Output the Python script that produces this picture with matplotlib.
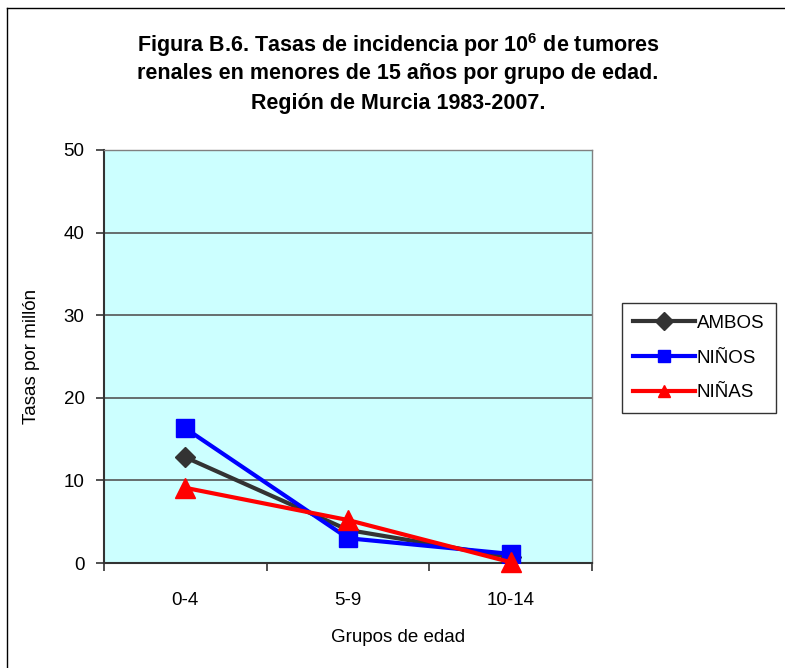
import matplotlib
matplotlib.use("Agg")
import matplotlib.pyplot as plt
from matplotlib.lines import Line2D

plt.rcParams['font.family'] = ['Liberation Sans', 'DejaVu Sans']
plt.rcParams['mathtext.fontset'] = 'custom'
plt.rcParams['mathtext.rm'] = 'Liberation Sans:bold'
plt.rcParams['mathtext.it'] = 'Liberation Sans:bold'
plt.rcParams['mathtext.bf'] = 'Liberation Sans:bold'

categories = ["0-4", "5-9", "10-14"]
ambos = [12.8, 4.0, 0.7]
ninos = [16.3, 3.0, 1.1]
ninas = [9.1, 5.2, 0.1]
yticks = [0, 10, 20, 30, 40, 50]

W, H = 785, 668
fig = plt.figure(figsize=(W/100, H/100), dpi=100)
ax = fig.add_axes([104/W, 1-563/H, (592-104)/W, (563-150)/H])
ax.set_facecolor("#ccffff")

x = list(range(len(categories)))
ax.plot(x, ambos, color="#333333", lw=3, marker="D", ms=10, label="AMBOS", zorder=3)
ax.plot(x, ninos, color="#0000ff", lw=3, marker="s", ms=13, label="NIÑOS", zorder=4)
ax.plot(x, ninas, color="#ff0000", lw=3, marker="^", ms=14, label="NIÑAS", zorder=5, clip_on=False)

ax.set_xlim(-0.5, 2.5)
ax.set_ylim(0, 50)
ax.set_yticks(yticks)
ax.set_xticks(x)
ax.set_xticklabels(categories)
ax.set_xticks([-0.5, 0.5, 1.5, 2.5], minor=True)
ax.tick_params(axis='x', which='major', length=0, labelsize=13.5, pad=21)
ax.tick_params(axis='x', which='minor', length=6, width=1.2, color="#333333", direction='out')
ax.tick_params(axis='y', labelsize=13.5, length=6, width=1.2, color="#333333", direction='out', pad=8)
ax.grid(axis='y', color="#555555", lw=1.2)
ax.set_axisbelow(True)
for s in ['top', 'right']:
    ax.spines[s].set_color("#808080")
    ax.spines[s].set_linewidth(1)
for s in ['left', 'bottom']:
    ax.spines[s].set_color("#333333")
    ax.spines[s].set_linewidth(1.5)

fig.text(398/W, 1-637/H, "Grupos de edad", fontsize=13.5, ha="center", va="center")
fig.text(31/W, 1-356/H, "Tasas por millón", fontsize=13.5, ha="center", va="center", rotation=90)

title_lines = ["Figura B.6. Tasas de incidencia por 10$^{6}$ de tumores",
               "renales en menores de 15 años por grupo de edad.",
               "Región de Murcia 1983-2007."]
for line, yy in zip(title_lines, [45, 74, 103]):
    fig.text(398/W, 1-yy/H, line, ha="center", va="center", fontsize=15.5, fontweight="bold")

leg = ax.legend(loc="center left", bbox_to_anchor=(622/W, 1-358/H), bbox_transform=fig.transFigure,
                frameon=True, fancybox=False, edgecolor="#000000", fontsize=13.5,
                handlelength=3.3, borderpad=0.6, labelspacing=0.95, handletextpad=0.1,
                borderaxespad=0)
leg.get_frame().set_linewidth(1)
for h in leg.legend_handles:
    h.set_markersize(9)

fig.add_artist(Line2D([7/W, 7/W], [0, 1-8/H], transform=fig.transFigure, color="black", lw=1))
fig.add_artist(Line2D([7/W, 1], [1-8/H, 1-8/H], transform=fig.transFigure, color="black", lw=1))

fig.savefig("out.png", dpi=100)
